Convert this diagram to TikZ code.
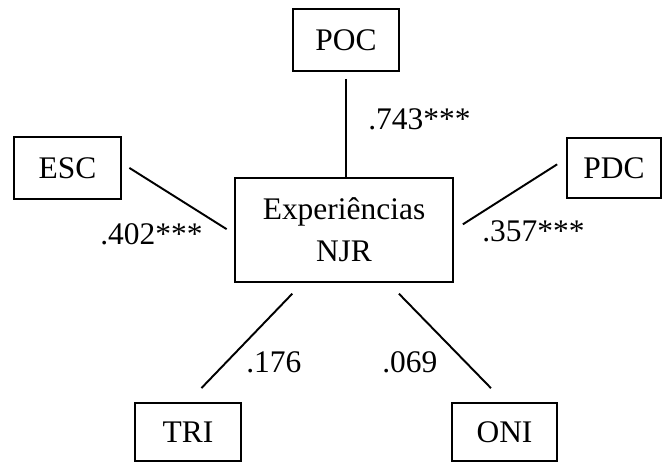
\documentclass[tikz,border=0pt]{standalone}
\usepackage{fontspec}
\setmainfont{Liberation Serif}
\usepackage{tikz}

\tikzset{
  vbox/.style={draw, line width=1.1pt, inner sep=0pt,
    minimum width=2.12cm, minimum height=1.24cm},
  coef/.style={anchor=base west, inner sep=0pt},
  link/.style={line width=1.1pt}
}

\begin{document}
\begin{tikzpicture}[font=\fontsize{17.9}{23.9}\selectfont, x=0.02cm, y=-0.02cm]
  \useasboundingbox (0,0) rectangle (662,462);
  % --- midten ---
  \node[vbox, minimum width=4.36cm, minimum height=2.08cm, align=center] (njr) at (344,230) {Experiências\\NJR};
  % --- dimensioner ---
  \node[vbox] (poc) at (346,40) {POC};
  \node[vbox, minimum width=2.14cm] (esc) at (67.5,168) {ESC};
  \node[vbox, minimum width=1.88cm, minimum height=1.2cm] (pdc) at (614,168) {PDC};
  \node[vbox, minimum height=1.16cm] (tri) at (188,432) {TRI};
  \node[vbox, minimum width=2.1cm, minimum height=1.16cm] (oni) at (504.5,432) {ONI};
  % --- forbindelser ---
  \draw[link, shorten <=4pt] (poc.south) -- (poc.south |- njr.north);
  \draw[link, shorten <=5pt, shorten >=5pt] (esc.5) -- (njr.182);
  \draw[link, shorten <=6pt, shorten >=6pt] (pdc.169) -- (njr.east);
  \draw[link, shorten <=8.5pt, shorten >=11pt] (njr.232) -- (tri.north);
  \draw[link, shorten <=8.5pt, shorten >=11pt] (njr.310) -- (oni.north);
  % --- koefficienter ---
  \node[coef] (c1) at (368,130) {.743***};
  \node[coef] (c2) at (100,245) {.402***};
  \node[coef] (c3) at (482,242) {.357***};
  \node[coef] (c4) at (246,372) {.176};
  \node[coef] (c5) at (382,372) {.069};
\end{tikzpicture}
\end{document}
